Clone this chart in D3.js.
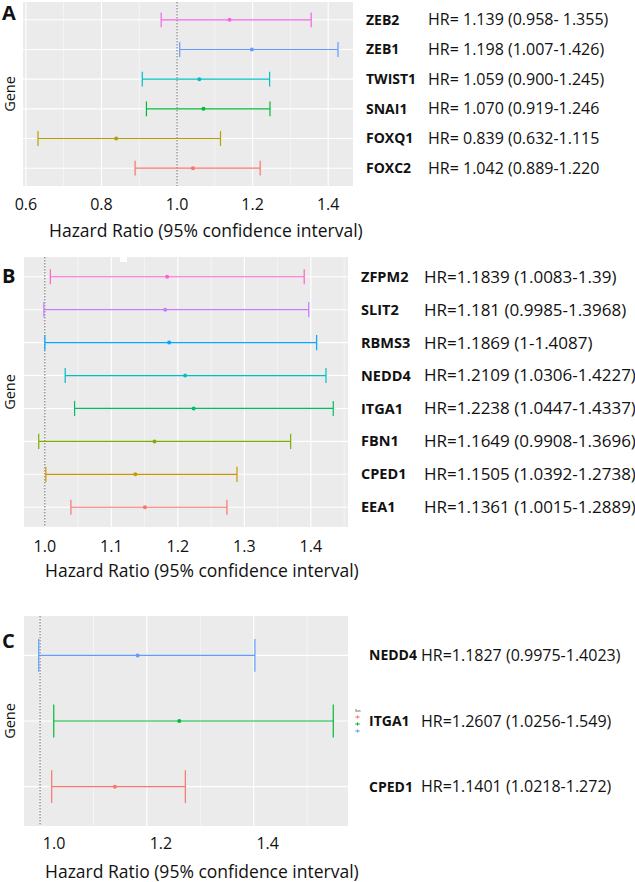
<!DOCTYPE html>
<html><head><meta charset="utf-8">
<script src="https://cdn.jsdelivr.net/npm/d3@7"></script>
<style>
html,body{margin:0;padding:0;background:#fff;}
svg{display:block;}
text{font-family:"Open Sans",Lato,sans-serif;fill:#111;}
</style></head><body>
<svg id="chart" width="635" height="882"></svg>
<script>
// ---------- Panel A data (bottom row first, as plotted) ----------
const genesA = ["FOXC2","FOXQ1","SNAI1","TWIST1","ZEB1","ZEB2"];
const hrA    = [1.042, 0.839, 1.070, 1.059, 1.198, 1.139];
const lowA   = [0.889, 0.632, 0.919, 0.908, 1.007, 0.958];
const highA  = [1.220, 1.115, 1.246, 1.245, 1.426, 1.355];
const colorsA = ["#F8766D","#B79F00","#00BA38","#00BFC4","#619CFF","#F564E3"];
const ticksA = [0.6, 0.8, 1.0, 1.2, 1.4];
const minorA = [0.7, 0.9, 1.1, 1.3];
const labelGenesA = ["ZEB2","ZEB1","TWIST1","SNAI1","FOXQ1","FOXC2"];
const labelHRA = ["HR= 1.139 (0.958- 1.355)","HR= 1.198 (1.007-1.426)","HR= 1.059 (0.900-1.245)",
                  "HR= 1.070 (0.919-1.246","HR= 0.839 (0.632-1.115","HR= 1.042 (0.889-1.220"];

// ---------- Panel B data ----------
const genesB = ["CPED1","EEA1","FBN1","ITGA1","NEDD4","RBMS3","SLIT2","ZFPM2"];
const hrB    = [1.1505, 1.1361, 1.1649, 1.2238, 1.2109, 1.1869, 1.181, 1.1839];
const lowB   = [1.0392, 1.0015, 0.9908, 1.0447, 1.0306, 1.0, 0.9985, 1.0083];
const highB  = [1.2738, 1.2889, 1.3696, 1.4337, 1.4227, 1.4087, 1.3968, 1.39];
const colorsB = ["#F8766D","#CD9600","#7CAE00","#00BE67","#00BFC4","#00A9FF","#C77CFF","#FF61CC"];
const ticksB = [1.0, 1.1, 1.2, 1.3, 1.4];
const minorB = [1.05, 1.15, 1.25, 1.35, 1.45];
const labelGenesB = ["ZFPM2","SLIT2","RBMS3","NEDD4","ITGA1","FBN1","CPED1","EEA1"];
const labelHRB = ["HR=1.1839 (1.0083-1.39)","HR=1.181 (0.9985-1.3968)","HR=1.1869 (1-1.4087)",
                  "HR=1.2109 (1.0306-1.4227)","HR=1.2238 (1.0447-1.4337)","HR=1.1649 (0.9908-1.3696)",
                  "HR=1.1505 (1.0392-1.2738)","HR=1.1361 (1.0015-1.2889)"];

// ---------- Panel C data ----------
const genesC = ["CPED1","ITGA1","NEDD4"];
const hrC    = [1.1401, 1.2607, 1.1827];
const lowC   = [1.0218, 1.0256, 0.9975];
const highC  = [1.272, 1.549, 1.4023];
const colorsC = ["#F8766D","#00BA38","#619CFF"];
const ticksC = [1.0, 1.2, 1.4];
const minorC = [1.1, 1.3, 1.5];
const labelGenesC = ["NEDD4","ITGA1","CPED1"];
const labelHRC = ["HR=1.1827 (0.9975-1.4023)","HR=1.2607 (1.0256-1.549)","HR=1.1401 (1.0218-1.272)"];

const svg = d3.select("#chart");
const fmt = d3.format(".1f");

function expand(lo, hi){
  const mn = d3.min(lo), mx = d3.max(hi), r = mx - mn;
  return [mn - 0.05*r, mx + 0.05*r];
}

function drawPanel(c){
  const x = d3.scaleLinear().domain(expand(c.low, c.high)).range([c.left, c.right]);
  const y = d3.scalePoint().domain(c.genes).range([c.bottom, c.top]).padding(0.6);
  const step = y.step();
  const g = svg.append("g");
  g.append("rect").attr("x", c.left).attr("y", c.top)
    .attr("width", c.right - c.left).attr("height", c.bottom - c.top).attr("fill", "#EBEBEB");
  g.selectAll("line.gmin").data(c.minor).join("line").attr("class", "gmin")
    .attr("x1", d => x(d)).attr("x2", d => x(d)).attr("y1", c.top).attr("y2", c.bottom)
    .attr("stroke", "#fff").attr("stroke-width", 0.6).attr("opacity", 0.9);
  g.selectAll("line.gmaj").data(c.ticks).join("line").attr("class", "gmaj")
    .attr("x1", d => x(d)).attr("x2", d => x(d)).attr("y1", c.top).attr("y2", c.bottom)
    .attr("stroke", "#fff").attr("stroke-width", 1.1);
  g.selectAll("line.gh").data(c.genes).join("line").attr("class", "gh")
    .attr("x1", c.left).attr("x2", c.right).attr("y1", d => y(d)).attr("y2", d => y(d))
    .attr("stroke", "#fff").attr("stroke-width", 1.1);
  g.append("line").attr("x1", x(1)).attr("x2", x(1)).attr("y1", c.top).attr("y2", c.bottom)
    .attr("stroke", "#666").attr("stroke-width", 1).attr("stroke-dasharray", "1.5,1.5");

  const rows = c.genes.map((gn, i) => ({gene: gn, hr: c.hr[i], lo: c.low[i], hi: c.high[i], col: c.colors[i]}));
  const half = step * c.cap / 2;
  const eb = g.selectAll("g.eb").data(rows).join("g").attr("class", "eb");
  eb.append("line").attr("x1", d => x(d.lo)).attr("x2", d => x(d.hi))
    .attr("y1", d => y(d.gene)).attr("y2", d => y(d.gene)).attr("stroke", d => d.col).attr("stroke-width", 1.2);
  eb.append("line").attr("x1", d => x(d.lo)).attr("x2", d => x(d.lo))
    .attr("y1", d => y(d.gene) - half).attr("y2", d => y(d.gene) + half).attr("stroke", d => d.col).attr("stroke-width", 1.2);
  eb.append("line").attr("x1", d => x(d.hi)).attr("x2", d => x(d.hi))
    .attr("y1", d => y(d.gene) - half).attr("y2", d => y(d.gene) + half).attr("stroke", d => d.col).attr("stroke-width", 1.2);
  eb.append("circle").attr("cx", d => x(d.hr)).attr("cy", d => y(d.gene)).attr("r", 2).attr("fill", d => d.col);

  // x axis tick labels
  g.selectAll("text.tl").data(c.ticks).join("text").attr("class", "tl")
    .attr("x", d => x(d) + c.tickShift).attr("y", c.tickBase).attr("text-anchor", "middle")
    .style("font-size", "16px").text(d => fmt(d));

  // axis titles
  g.append("text").attr("x", c.titleX).attr("y", c.titleBase).style("font-size", "17.5px")
    .text("Hazard Ratio (95% confidence interval)");
  g.append("text").attr("transform", `translate(${c.geneX},${(c.top + c.bottom) / 2}) rotate(-90)`)
    .attr("text-anchor", "middle").style("font-size", "14.5px").text("Gene");
  // panel letter
  g.append("text").attr("x", 2).attr("y", c.letterBase).style("font-size", "20px")
    .style("font-weight", "bold").text(c.letter);

  // right-side labels (top to bottom)
  const order = c.genes.slice().reverse();
  c.labelGenes.forEach((lg, i) => {
    const yy = y(order[i]);
    g.append("text").attr("x", c.nameX).attr("y", yy).attr("dy", "0.35em")
      .style("font-size", c.nameSize).style("font-weight", "bold").text(lg);
    g.append("text").attr("x", c.hrX).attr("y", yy).attr("dy", "0.35em")
      .style("font-size", c.hrSize).text(c.labelHR[i]);
  });
  return {x, y};
}

drawPanel({letter:"A", genes:genesA, hr:hrA, low:lowA, high:highA, colors:colorsA, ticks:ticksA, minor:minorA,
  labelGenes:labelGenesA, labelHR:labelHRA, left:23, right:353, top:2, bottom:186, cap:0.5,
  tickBase:210, tickShift:0, titleX:49, titleBase:237, geneX:15, letterBase:20,
  nameX:366, hrX:428, nameSize:"14px", hrSize:"16px"});

drawPanel({letter:"B", genes:genesB, hr:hrB, low:lowB, high:highB, colors:colorsB, ticks:ticksB, minor:minorB,
  labelGenes:labelGenesB, labelHR:labelHRB, left:24, right:348, top:257, bottom:527, cap:0.46,
  tickBase:552, tickShift:0, titleX:45, titleBase:577, geneX:15, letterBase:283,
  nameX:361, hrX:424, nameSize:"14.5px", hrSize:"17px"});

drawPanel({letter:"C", genes:genesC, hr:hrC, low:lowC, high:highC, colors:colorsC, ticks:ticksC, minor:minorC,
  labelGenes:labelGenesC, labelHR:labelHRC, left:24, right:348, top:616, bottom:826, cap:0.5,
  tickBase:849, tickShift:14, titleX:45, titleBase:878, geneX:15, letterBase:648,
  nameX:369, hrX:421, nameSize:"14px", hrSize:"16px"});

// small white artifact in panel B
svg.append("rect").attr("x", 120).attr("y", 257).attr("width", 7).attr("height", 5).attr("fill", "#fff");

// tiny legend next to panel C
const lg = svg.append("g").attr("transform", "translate(357,712)");
lg.append("text").attr("x", -2).attr("y", 0).style("font-size", "3px").attr("fill", "#666").text("Gen");
colorsC.forEach((col, i) => {
  const yy = 5 + i * 7;
  lg.append("line").attr("x1", -2).attr("x2", 3).attr("y1", yy).attr("y2", yy).attr("stroke", col).attr("stroke-width", 0.8);
  lg.append("line").attr("x1", 0.5).attr("x2", 0.5).attr("y1", yy - 2).attr("y2", yy + 2).attr("stroke", col).attr("stroke-width", 0.6);
  lg.append("circle").attr("cx", 0.5).attr("cy", yy).attr("r", 0.9).attr("fill", col);
});
</script>
</body></html>
